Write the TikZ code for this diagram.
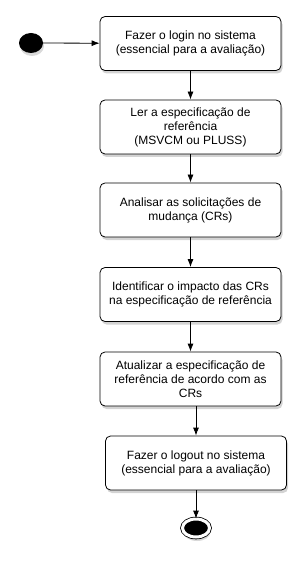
\documentclass[tikz,border=0pt]{standalone}
\usepackage{fontspec}
\setmainfont{Liberation Sans}
\usetikzlibrary{arrows.meta,positioning,shapes.geometric,shadows}

\begin{document}
\begin{tikzpicture}[x=1pt,y=-1pt,
  activity/.style={draw=black,fill=white,thick,rounded corners=5pt,
    minimum width=181pt,minimum height=54pt,align=center,
    font=\fontsize{12}{14}\selectfont,
    drop shadow={shadow xshift=1.5pt,shadow yshift=-3pt,opacity=0.35}},
  startstate/.style={ellipse,fill=black,minimum width=24pt,minimum height=20pt,
    inner sep=0pt,drop shadow={shadow xshift=1pt,shadow yshift=-3pt,opacity=0.3}},
  endstate/.style={ellipse,fill=black,draw=black,double=white,double distance=3pt,
    line width=0.8pt,minimum width=27pt,minimum height=18pt,inner sep=0pt,
    drop shadow={shadow xshift=1pt,shadow yshift=-4pt,opacity=0.3}},
  arrow/.style={-{Latex[length=8pt,width=6pt]},thick,draw=black}
]
\useasboundingbox (0,0) rectangle (306,569);

\node[startstate] (init) at (31,43) {};

\node[activity] (login) at (190.5,43.5)
  {Fazer o login no sistema\\(essencial para a avaliação)};
\node[activity] (ler) at (190.5,127)
  {Ler a especificação de\\referência\\(MSVCM ou PLUSS)};
\node[activity] (analisar) at (190.5,210)
  {Analisar as solicitações de\\mudança (CRs)};
\node[activity] (impacto) at (190.5,294.5)
  {Identificar o impacto das CRs\\na especificação de referência};
\node[activity] (atualizar) at (190.5,379)
  {Atualizar a especificação de\\referência de acordo com as\\CRs};
\node[activity] (logout) at (196,463)
  {Fazer o logout no sistema\\(essencial para a avaliação)};

\node[endstate] (final) at (196,528) {};

\draw[arrow] (init) -- (login);
\draw[arrow] (login) -- (ler);
\draw[arrow] (ler) -- (analisar);
\draw[arrow] (analisar) -- (impacto);
\draw[arrow] (impacto) -- (atualizar);
\draw[arrow] (logout.north |- atualizar.south) -- (logout.north);
\draw[arrow] (logout) -- (final);
\end{tikzpicture}
\end{document}
